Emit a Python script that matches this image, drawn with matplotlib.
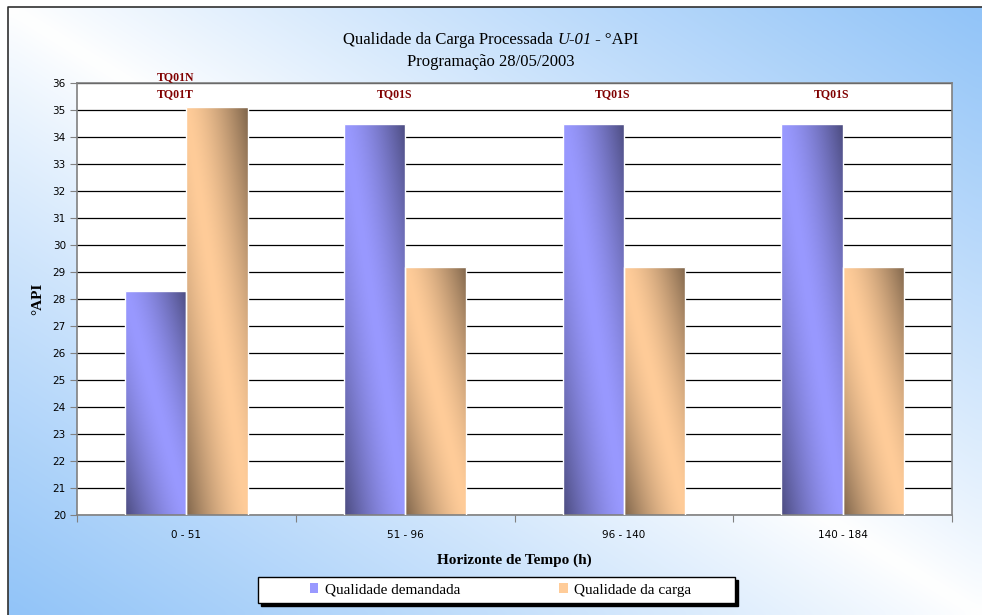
import numpy as np
import matplotlib.pyplot as plt
from matplotlib.patches import Rectangle, Patch
from matplotlib.lines import Line2D
from matplotlib.colors import to_rgb

# dados do gráfico
categorias = ['0 - 51', '51 - 96', '96 - 140', '140 - 184']
demandada = [28.3, 34.5, 34.5, 34.5]
carga = [35.1, 29.2, 29.2, 29.2]
tanques = ['TQ01N\nTQ01T', 'TQ01S', 'TQ01S', 'TQ01S']
series = ['Qualidade demandada', 'Qualidade da carga']
titulo = [('Qualidade da Carga Processada ', 'normal'), ('U-01', 'italic'), (' - °API', 'normal')]
subtitulo = 'Programação 28/05/2003'

azul = '#9999ff'
azul_esc = '#4c4c80'
laranja = '#ffcc99'
laranja_esc = '#80664c'
serif = 'Liberation Serif'


def degrade(c_claro, c_escuro, n=96, gama=1.5):
    # diagonal: claro na diagonal principal, escuro nos cantos sup. direito / inf. esquerdo
    u = np.linspace(0, 1, n)[None, :]
    v = np.linspace(0, 1, n)[:, None]
    t = np.clip(np.abs(u - v), 0, 1) ** gama
    a = np.array(to_rgb(c_claro))
    b = np.array(to_rgb(c_escuro))
    return a * (1 - t[..., None]) + b * t[..., None]


fig = plt.figure(figsize=(9.82, 6.15), dpi=100)
fig.patch.set_facecolor('white')

# fundo com degradê azul
bg = fig.add_axes([8 / 982, 0, 1 - 8 / 982, 1 - 7 / 615], zorder=-10)
bg.imshow(degrade('#ffffff', '#92c4f8', gama=0.9), aspect='auto',
          extent=(0, 1, 0, 1), interpolation='bicubic')
bg.set_axis_off()

# moldura externa
fig.add_artist(Line2D([8 / 982, 8 / 982, 1], [0, 1 - 7 / 615, 1 - 7 / 615],
                      transform=fig.transFigure, color='#303030', lw=1.2))

ax = fig.add_axes([77 / 982, 1 - 515 / 615, (952 - 77) / 982, (515 - 83) / 615])
ax.set_facecolor('white')

x = np.arange(len(categorias))
w = 0.28
b1 = ax.bar(x - w / 2, demandada, w, color='none', edgecolor='white', lw=1, zorder=3)
b2 = ax.bar(x + w / 2, carga, w, color='none', edgecolor='white', lw=1, zorder=3)

ax.set_xlim(-0.5, len(categorias) - 0.5)
ax.set_ylim(20, 36)

# preenchimento com degradê recortado em cada barra
for barras, claro, escuro in [(b1, azul, azul_esc), (b2, laranja, laranja_esc)]:
    img = degrade(claro, escuro)
    for r in barras:
        x0, y1 = r.get_x(), r.get_height()
        im = ax.imshow(img, extent=(x0, x0 + r.get_width(), 20, y1),
                       aspect='auto', zorder=2, interpolation='bilinear')
        im.set_clip_path(r)

# rótulos dos tanques
for i, t in enumerate(tanques):
    ax.text(i - 0.05, 35.35, t, ha='center', va='bottom', fontsize=8.5,
            fontweight='bold', family=serif, color='#800000',
            linespacing=1.65, clip_on=False, zorder=5)

# grade e eixos
ax.set_yticks(np.arange(20, 37, 1))
ax.yaxis.grid(True, color='black', lw=0.9, zorder=1)
ax.set_axisbelow(True)
ax.tick_params(axis='y', labelsize=7.5, length=5, color='#808080', pad=3)
ax.set_xticks(np.arange(-0.5, len(categorias), 1))
ax.set_xticklabels([])
ax.set_xticks(x, minor=True)
ax.set_xticklabels(categorias, minor=True)
ax.tick_params(axis='x', which='major', length=5, color='#808080')
ax.tick_params(axis='x', which='minor', length=0, labelsize=7.5, pad=11)
for s in ax.spines.values():
    s.set_color('#808080')
    s.set_linewidth(1.2)

ax.set_ylabel('°API', family=serif, fontweight='bold', fontsize=11)
ax.yaxis.set_label_coords(-0.037, 0.5)
ax.set_xlabel('Horizonte de Tempo (h)', family=serif, fontweight='bold', fontsize=11)
ax.xaxis.set_label_coords(0.5, -0.088)

# título em partes (trecho em itálico no meio)
r = fig.canvas.get_renderer()
partes = [fig.text(0, 1 - 40 / 615, s, va='center', family=serif, fontsize=12, style=st)
          for s, st in titulo]
larg = [p.get_window_extent(r).width / fig.bbox.width for p in partes]
x_ini = 0.5 - sum(larg) / 2
for p, lg in zip(partes, larg):
    p.set_x(x_ini)
    x_ini += lg
fig.text(0.5, 1 - 62 / 615, subtitulo, ha='center', va='center',
         family=serif, fontsize=12)

# legenda com sombra
lx, ly, lw_, lh = 258 / 982, 1 - 603 / 615, 477 / 982, 26 / 615
fig.add_artist(Rectangle((lx + 3 / 982, ly - 3 / 615), lw_, lh, transform=fig.transFigure,
                         facecolor='black', edgecolor='black', lw=1))
fig.add_artist(Rectangle((lx, ly), lw_, lh, transform=fig.transFigure,
                         facecolor='white', edgecolor='black', lw=1))
handles = [Patch(facecolor=azul, edgecolor='none'), Patch(facecolor=laranja, edgecolor='none')]
leg = fig.legend(handles, series, loc='center', bbox_to_anchor=(lx + lw_ / 2 + 4 / 982, ly + lh / 2),
                 ncol=2, frameon=False, prop={'family': serif, 'size': 11},
                 handlelength=0.55, handleheight=0.55, handletextpad=0.4, columnspacing=6.5)

fig.savefig('out.png', dpi=100)
